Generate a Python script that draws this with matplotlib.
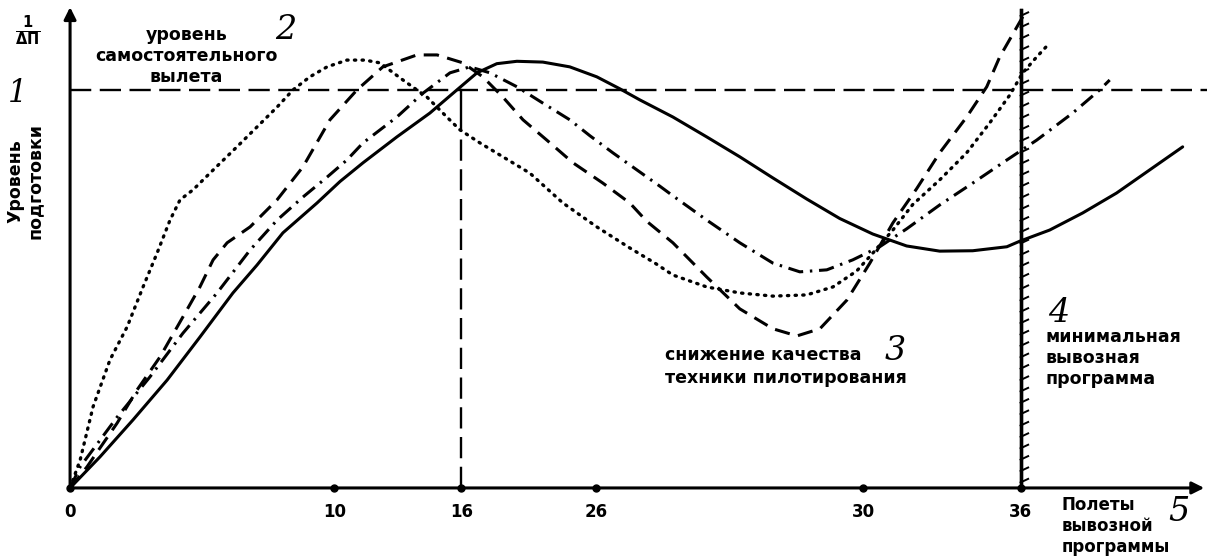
import matplotlib

matplotlib.use("Agg")
import matplotlib.pyplot as plt
import matplotlib.patheffects as pe

# x: flights of the training programme (drawing units), y: training level (1 = solo level)
solid_x = [0, 1.13, 2.38, 3.67, 4.91, 6.16, 7.07, 8.05, 9.34, 10.21, 11.08, 12.36, 13.61,
           14.63, 15.39, 16.14, 16.9, 17.88, 18.9, 19.92, 20.79, 21.55, 22.8, 24.08, 25.33,
           26.58, 27.86, 29.11, 30.36, 31.64, 32.89, 34.14, 35.43, 35.92, 37.05, 38.3, 39.58,
           40.83, 42.08]
solid_y = [0, 0.078, 0.171, 0.271, 0.379, 0.490, 0.560, 0.641, 0.716, 0.770, 0.817, 0.882,
           0.942, 1.0, 1.043, 1.066, 1.072, 1.070, 1.058, 1.033, 1.003, 0.975, 0.932, 0.882,
           0.832, 0.779, 0.726, 0.677, 0.638, 0.608, 0.595, 0.596, 0.606, 0.620, 0.648,
           0.691, 0.741, 0.799, 0.857]

dashed_x = [0, 0.64, 1.78, 2.53, 3.4, 4.27, 4.91, 5.41, 5.94, 6.81, 7.83, 8.81, 9.83, 10.85,
            11.83, 13.12, 13.88, 14.86, 15.61, 16.37, 17.13, 18.03, 19.02, 20.15, 21.17,
            21.81, 22.8, 24.08, 25.33, 26.58, 27.49, 28.36, 29.38, 30.25, 31.12, 32.02,
            32.89, 33.91, 34.67, 35.16, 36.18]
dashed_y = [0, 0.053, 0.163, 0.246, 0.329, 0.430, 0.505, 0.573, 0.616, 0.656, 0.724, 0.807,
            0.925, 1.0, 1.058, 1.088, 1.088, 1.068, 1.033, 0.982, 0.925, 0.874, 0.817, 0.766,
            0.716, 0.670, 0.616, 0.530, 0.450, 0.400, 0.382, 0.400, 0.472, 0.565, 0.666,
            0.752, 0.842, 0.932, 1.008, 1.083, 1.201]

dotted_x = [0, 0.38, 0.87, 1.51, 2.16, 2.76, 3.29, 3.78, 4.16, 4.65, 5.29, 6.31, 7.07, 7.83,
            8.43, 9.07, 9.72, 10.47, 11.15, 11.72, 12.59, 13.5, 14.25, 14.74, 15.5, 16.37,
            17.39, 18.64, 19.92, 21.17, 22.12, 22.8, 24.08, 25.33, 26.58, 27.86, 28.85,
            29.75, 30.36, 31.12, 31.87, 32.89, 33.91, 34.78, 35.54, 36.03, 36.56, 37.05]
dotted_y = [0, 0.070, 0.204, 0.322, 0.405, 0.505, 0.590, 0.673, 0.724, 0.749, 0.791, 0.857,
            0.907, 0.957, 1.0, 1.033, 1.058, 1.075, 1.075, 1.068, 1.025, 0.982, 0.932, 0.9,
            0.867, 0.832, 0.791, 0.716, 0.656, 0.603, 0.565, 0.535, 0.505, 0.490, 0.482,
            0.485, 0.505, 0.545, 0.590, 0.648, 0.712, 0.774, 0.842, 0.917, 0.987, 1.043,
            1.083, 1.118]

dashdot_x = [0, 0.38, 1.78, 3.02, 4.27, 5.56, 6.81, 7.83, 8.81, 9.72, 10.47, 11.08, 12.36,
             13.35, 14.37, 15.12, 15.88, 16.9, 17.88, 18.9, 19.66, 20.53, 21.44, 22.31, 22.8,
             24.08, 25.33, 26.58, 27.6, 28.62, 29.6, 30.62, 31.64, 32.89, 34.14, 35.43,
             36.56, 37.92, 38.94, 39.32]
dashdot_y = [0, 0.053, 0.178, 0.279, 0.389, 0.490, 0.598, 0.673, 0.731, 0.781, 0.824, 0.867,
             0.932, 0.992, 1.043, 1.058, 1.043, 1.008, 0.967, 0.925, 0.885, 0.842, 0.799,
             0.758, 0.734, 0.673, 0.616, 0.565, 0.543, 0.548, 0.573, 0.606, 0.651, 0.711,
             0.766, 0.824, 0.874, 0.942, 1.0, 1.025]

solo_level = 1.0
solo_flight = 14.8      # where the "16" mark sits on the drawing
min_programme = 35.95   # hatched line, "36"

tick_pos = [0, 10, 14.8, 19.9, 30, 35.95]
tick_labels = ["0", "10", "16", "26", "30", "36"]

fig = plt.figure(figsize=(12.07, 5.58), dpi=100)
ax = fig.add_axes([0, 0, 1, 1])
ax.set_xlim(-2.65, 43.0)
ax.set_ylim(-0.176, 1.226)
ax.axis("off")

ax.plot(solid_x, solid_y, color="black", lw=2.2, solid_capstyle="round")
ax.plot(dashed_x, dashed_y, color="black", lw=2.2, linestyle=(0, (5, 2.8)))
ax.plot(dotted_x, dotted_y, color="black", lw=2.4, linestyle=(0, (0.4, 1.9)),
        dash_capstyle="round")
ax.plot(dashdot_x, dashdot_y, color="black", lw=2.2, linestyle=(0, (5, 2.2, 0.8, 2.2)))

# level of solo flight
ax.plot([0, 43.0], [solo_level, solo_level], color="black", lw=1.7, linestyle=(0, (9, 3.6)))
ax.plot([solo_flight, solo_flight], [0.9, solo_level], color="black", lw=1.7)
ax.plot([solo_flight, solo_flight], [0, 0.9], color="black", lw=1.7,
        linestyle=(0, (9, 3.6)))
# minimal programme (hatched)
ax.plot([min_programme, min_programme], [0, 1.2], color="black", lw=2.4,
        path_effects=[pe.withTickedStroke(angle=-65, spacing=8, length=0.75,
                                          linewidth=1.4),
                      pe.Normal()])

# axes with arrows
ax.annotate("", xy=(0, 1.215), xytext=(0, 0),
            arrowprops=dict(arrowstyle="-|>", color="black", lw=2.2, mutation_scale=18))
ax.annotate("", xy=(43.0, 0), xytext=(0, 0),
            arrowprops=dict(arrowstyle="-|>", color="black", lw=2.2, mutation_scale=18))
ax.plot(tick_pos, [0] * len(tick_pos), "o", color="black", ms=5)
for p, lab in zip(tick_pos, tick_labels):
    ax.text(p, -0.06, lab, ha="center", va="center", fontsize=12, fontweight="bold")

fb = dict(fontsize=12.5, fontweight="bold", family="DejaVu Sans")
hand = dict(fontsize=24, style="italic", family="DejaVu Serif")
ax.text(-1.6, 1.15, r"$\mathbf{\frac{1}{\Delta\Pi}}$", ha="center", va="center", fontsize=15)
ax.text(-2.0, 0.99, "1", ha="center", va="center", fontsize=22, style="italic",
        family="DejaVu Serif")
ax.text(-1.7, 0.77, "Уровень\nподготовки", ha="center", va="center", rotation=90,
        linespacing=1.1, **fb)
ax.text(4.4, 1.085, "уровень\nсамостоятельного\nвылета", ha="center", va="center",
        linespacing=1.2, **fb)
ax.text(8.15, 1.15, "2", ha="center", va="center", **hand)
ax.text(22.5, 0.334, "снижение качества", ha="left", va="center", **fb)
ax.text(22.5, 0.276, "техники пилотирования", ha="left", va="center", **fb)
ax.text(31.2, 0.345, "3", ha="center", va="center", **hand)
ax.text(37.4, 0.44, "4", ha="center", va="center", **hand)
ax.text(36.9, 0.327, "минимальная\nвывозная\nпрограмма", ha="left", va="center",
        linespacing=1.2, **fb)
ax.text(37.5, -0.095, "Полеты\nвывозной\nпрограммы", ha="left", va="center",
        linespacing=1.2, fontsize=12, fontweight="bold", family="DejaVu Sans")
ax.text(41.95, -0.06, "5", ha="center", va="center", **hand)

fig.savefig("out.png", dpi=100)
